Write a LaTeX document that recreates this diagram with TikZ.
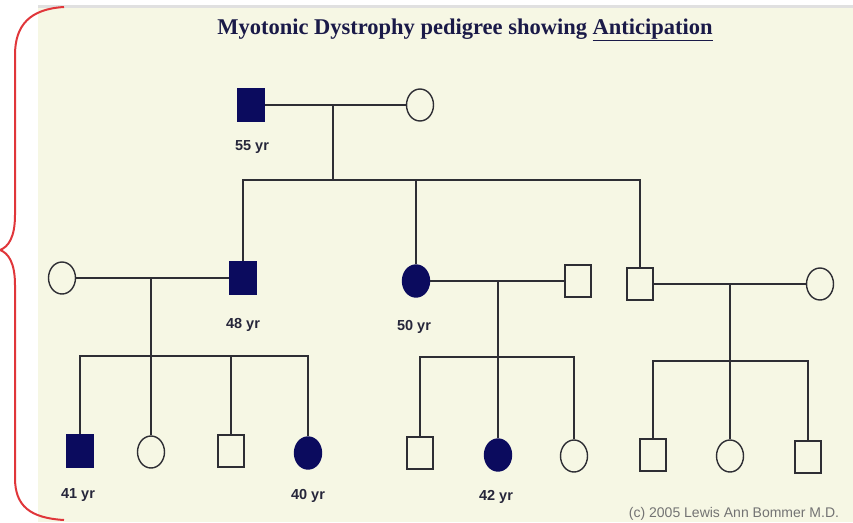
\documentclass[tikz,border=0pt]{standalone}
\usepackage{fontspec}
\setmainfont{Liberation Serif}
\newfontfamily\labelfont{Liberation Sans}
\usetikzlibrary{shapes.geometric}

\definecolor{panel}{HTML}{F6F7E4}
\definecolor{navy}{HTML}{0B0B5E}
\definecolor{lineclr}{HTML}{2E2E34}
\definecolor{titleclr}{HTML}{1A1A48}
\definecolor{agetext}{HTML}{26263A}
\definecolor{bracered}{HTML}{E0363A}

\begin{document}
\begin{tikzpicture}[x=1pt,y=-1pt,
  link/.style={draw=lineclr, line width=1.4pt},
  male/.style={rectangle, draw=lineclr, line width=1.4pt, fill=panel,
    minimum width=26pt, minimum height=32pt, inner sep=0pt},
  female/.style={ellipse, draw=lineclr, line width=1.4pt, fill=panel,
    minimum width=27pt, minimum height=32pt, inner sep=0pt},
  affected/.style={fill=navy, draw=navy},
  age/.style={font=\labelfont\bfseries\fontsize{14.5}{15}\selectfont, text=agetext, inner sep=0pt},
]
\useasboundingbox (0,0) rectangle (853,522);

% background panel with a soft top edge
\fill[panel] (38,7) rectangle (853,522);
\fill[black!12] (38,5) rectangle (853,8);

% red brace on the left
\draw[bracered, line width=2pt]
  (64,7) .. controls (30,9) and (15,25) .. (15,55) -- (15,215)
  .. controls (15,238) and (8,247) .. (0,250)
  .. controls (8,253) and (15,262) .. (15,285) -- (15,478)
  .. controls (15,506) and (30,518) .. (64,520);

% title
\node[anchor=base, text=titleclr, font=\bfseries\fontsize{22.5}{24}\selectfont, inner sep=0pt]
  (title) at (465,34) {Myotonic Dystrophy pedigree showing \underline{Anticipation}};

% generation I
\node[male, affected] (I1) at (251,105) {};
\node[female] (I2) at (420,105) {};
\node[age] (I1age) at (252,147) {55 yr};

% generation II
\node[female] (W2) at (62,278) {};
\node[male, affected] (II1) at (243,278) {};
\node[age] (II1age) at (243,325) {48 yr};
\node[female, affected] (II2) at (416,281) {};
\node[age] (II2age) at (414,327) {50 yr};
\node[male] (H2) at (578,281) {};
\node[male] (II3) at (640,284) {};
\node[female] (W3) at (820,284) {};

% generation III
\node[male, affected] (III1) at (80,451) {};
\node[age] (III1age) at (78,495) {41 yr};
\node[female] (III2) at (151,452) {};
\node[male] (III3) at (231,451) {};
\node[female, affected] (III4) at (308,453) {};
\node[age] (III4age) at (308,496) {40 yr};
\node[male] (III5) at (420,453) {};
\node[female, affected] (III6) at (498,455) {};
\node[age] (III6age) at (496,497) {42 yr};
\node[female] (III7) at (574,456) {};
\node[male] (III8) at (653,455) {};
\node[female] (III9) at (730,456) {};
\node[male] (III10) at (808,457) {};

% marriage and descent points
\coordinate (m1) at (333,105);
\coordinate (s1) at (333,180);
\coordinate (m2) at (151,278);
\coordinate (s2) at (151,356);
\coordinate (m3) at (498,281);
\coordinate (s3) at (498,357);
\coordinate (m4) at (730,284);
\coordinate (s4) at (730,361);

% generation I family
\draw[link] (I1.east) -- (I2.west);
\draw[link] (m1) -- (s1);
\draw[link] (II1.north) |- (s1) -| (II3.north);
\draw[link] (s1 -| II2.north) -- (II2.north);

% left family of generation II
\draw[link] (W2.east) -- (II1.west);
\draw[link] (m2) -- (III2.north);
\draw[link] (III1.north) |- (s2) -| (III4.north);
\draw[link] (III3.north) -- (III3.north |- s2);

% middle family
\draw[link] (II2.east) -- (H2.west);
\draw[link] (m3) -- (III6.north);
\draw[link] (III5.north) |- (s3) -| (III7.north);

% right family
\draw[link] (II3.east) -- (W3.west);
\draw[link] (m4) -- (s4);
\draw[link] (III8.north) |- (s4) -| (III10.north);
\draw[link] (s4) -- (III9.north);

% credit line
\node[anchor=base, text=black!55, font=\labelfont\fontsize{14}{14}\selectfont, inner sep=0pt]
  (credit) at (734,517) {(c) 2005 Lewis Ann Bommer M.D.};
\end{tikzpicture}
\end{document}
